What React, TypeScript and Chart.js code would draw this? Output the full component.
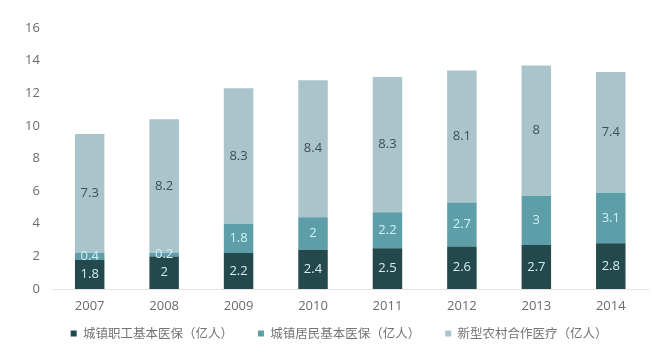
import React, { useEffect, useRef } from "react";
import { Chart, registerables } from "chart.js";

Chart.register(...registerables);

const categories = ["2007", "2008", "2009", "2010", "2011", "2012", "2013", "2014"];
const urbanEmployee = [1.8, 2, 2.2, 2.4, 2.5, 2.6, 2.7, 2.8];
const urbanResident = [0.4, 0.2, 1.8, 2, 2.2, 2.7, 3, 3.1];
const ruralCoop = [7.3, 8.2, 8.3, 8.4, 8.3, 8.1, 8, 7.4];
const seriesNames = ["城镇职工基本医保（亿人）", "城镇居民基本医保（亿人）", "新型农村合作医疗（亿人）"];
const yTicks = [0, 2, 4, 6, 8, 10, 12, 14, 16];

const barColors = ["#23494c", "#5d9ea8", "#a9c4cb"];
const labelColors = ["#d6ecee", "#cdf3f7", "#3f4f55"];

const dataLabelPlugin = {
  id: "inlineLabels",
  afterDatasetsDraw(chart: any) {
    const ctx = chart.ctx;
    ctx.save();
    ctx.font = "13px 'Open Sans'";
    ctx.textAlign = "center";
    ctx.textBaseline = "middle";
    chart.data.datasets.forEach((ds: any, di: number) => {
      const meta = chart.getDatasetMeta(di);
      meta.data.forEach((el: any, i: number) => {
        const v = ds.data[i];
        const y = (el.y + el.base) / 2;
        ctx.fillStyle = labelColors[di];
        ctx.fillText(String(v), el.x, y);
      });
    });
    ctx.restore();
  },
};

const legendPlacePlugin = {
  id: "legendPlace",
  afterLayout(chart: any) {
    const lg = chart.legend;
    if (!lg) return;
    const w = lg.right - lg.left;
    lg.left = 45.7;
    lg.right = lg.left + w;
    lg.top = 302.3;
  },
};

export default function App() {
  const ref = useRef<HTMLCanvasElement>(null);
  useEffect(() => {
    if (!ref.current) return;
    const chart = new Chart(ref.current, {
      type: "bar",
      data: {
        labels: categories,
        datasets: [urbanEmployee, urbanResident, ruralCoop].map((d, i) => ({
          label: seriesNames[i],
          data: d,
          backgroundColor: barColors[i],
          borderWidth: 0,
          barPercentage: 0.396,
          categoryPercentage: 1,
        })),
      },
      options: {
        responsive: false,
        animation: false,
        layout: { padding: { left: 12.6, right: 4, top: 28, bottom: -12.1 } },
        plugins: {
          tooltip: { enabled: false },
          legend: {
            position: "bottom",
            align: "start",
            labels: {
              boxWidth: 6,
              boxHeight: 6,
              padding: 25,
              color: "#737373",
              font: { family: "'Noto Sans CJK SC'", size: 12.5 },
            },
          },
        },
        scales: {
          x: {
            stacked: true,
            grid: { display: false, drawTicks: false },
            border: { display: true, color: "#e3e3e3", width: 1 },
            ticks: { color: "#6b6b6b", padding: 9, font: { family: "'Open Sans'", size: 13 } },
          },
          y: {
            stacked: true,
            min: 0,
            max: 16,
            afterBuildTicks: (s: any) => {
              s.ticks = yTicks.map((v) => ({ value: v }));
            },
            grid: { display: false, drawTicks: false },
            border: { display: false },
            ticks: { color: "#6b6b6b", padding: 12.5, font: { family: "'Open Sans'", size: 13 } },
          },
        },
      },
      plugins: [dataLabelPlugin, legendPlacePlugin],
    });
    return () => chart.destroy();
  }, []);
  return (
    <div style={{ position: "fixed", left: 0, top: 0, width: 652, height: 358, background: "#fff" }}>
      <canvas ref={ref} width={652} height={358} />
    </div>
  );
}
